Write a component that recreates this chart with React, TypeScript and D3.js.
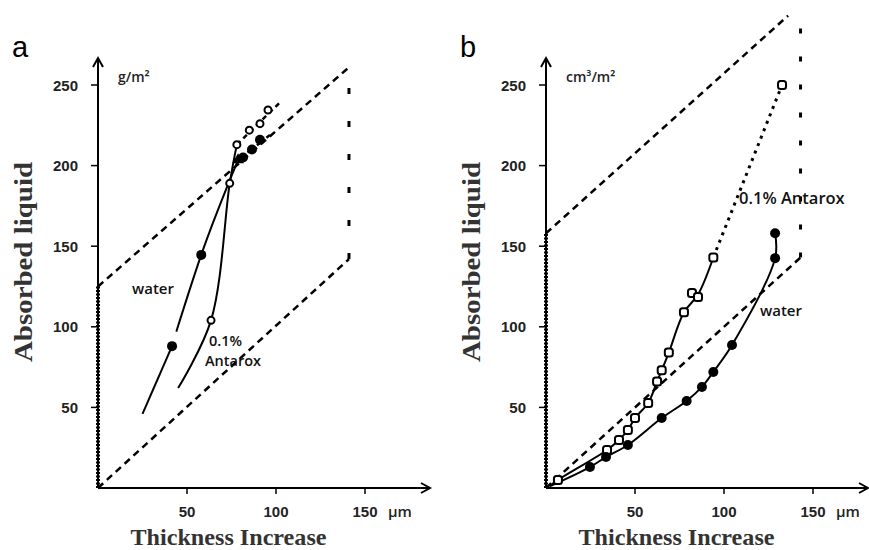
import * as d3 from "d3";

const W = 869;
const H = 550;

const xTicks = [50, 100, 150];
const yTicks = [50, 100, 150, 200, 250];

// panel a – bounding parallelogram
const aLower = [[0, 0], [141, 142]];
const aUpper = [[0, 125], [141, 261]];
const aRight = [[141, 142], [141, 261]];
const aLeft = [[0, 0], [0, 125]];

// panel a – water
const aWaterLine1 = [[25, 46], [41.6, 88]];
const aWaterLine2 = [[44, 97], [58, 144.6], [78.7, 203.5]];
const aWaterDash = [[78.7, 203.5], [96.6, 219]];
const aWaterPts = [[41.6, 88], [58, 144.6], [81.5, 205], [86.5, 210], [91, 216]];
const aWaterTri = [[78.7, 203.5]];

// panel a – 0.1% Antarox
const aAntLine = [[45, 62], [63.5, 104], [74, 189], [78, 213]];
const aAntDash = [[78, 213], [103, 240]];
const aAntPts = [[63.5, 104], [74, 189], [78, 213], [85, 222], [91, 226], [95.5, 234.5]];

// panel b – bounding parallelogram
const bLower = [[0, 0], [143, 143]];
const bUpper = [[0, 158], [136, 293]];
const bRight = [[143, 143], [143, 290]];
const bLeft = [[0, 0], [0, 158]];

// panel b – 0.1% Antarox
const bAntLine = [[3, 2], [6.7, 5], [34.3, 23.6], [41, 29.8], [46, 36], [50, 43.4], [57.4, 52.7], [62.4, 66], [65, 73], [69, 84], [77.5, 109], [85.4, 120], [94, 143]];
const bAntDot = [[94, 143], [132.6, 250]];
const bAntPts = [[6.7, 5], [34.3, 23.6], [41, 29.8], [46, 36], [50, 43.4], [57.4, 52.7], [62.4, 66], [65, 73], [69, 84], [77.5, 109], [82, 121], [85.4, 118.5], [94, 143], [132.6, 250]];

// panel b – water
const bWaterLine = [[2, 1], [24.7, 13], [33.7, 19.2], [46, 26.7], [65, 43.4], [79, 54], [87.6, 62.7], [94, 72], [104.5, 88.7], [128.7, 142.6], [128.7, 158]];
const bWaterPts = [[24.7, 13], [33.7, 19.2], [46, 26.7], [65, 43.4], [79, 54], [87.6, 62.7], [94, 72], [104.5, 88.7], [128.7, 142.6], [128.7, 158]];

const tickFont = "'Liberation Sans', Arial, sans-serif";
const noteFont = "'Open Sans', sans-serif";
const serif = "'Liberation Serif', 'Times New Roman', serif";

function Panel({ x0, xEnd, letter, unit, children }) {
  const x = d3.scaleLinear().domain([0, 150]).range([x0, x0 + 267]);
  const y = d3.scaleLinear().domain([0, 250]).range([488, 85]);
  const line = d3.line().x((d) => x(d[0])).y((d) => y(d[1]));
  return (
    <g>
      <text x={x0 - 86} y={57} fontFamily={tickFont} fontSize={29}>{letter}</text>
      {/* axes */}
      <line x1={x0} y1={y(0)} x2={x0} y2={60} stroke="#000" strokeWidth={2} />
      <path d={`M${x0 - 5},${67} L${x0},${58} L${x0 + 5},${67}`} fill="none" stroke="#000" strokeWidth={2} />
      <line x1={x0} y1={y(0)} x2={xEnd} y2={y(0)} stroke="#000" strokeWidth={2} />
      <path d={`M${xEnd - 9},${y(0) - 5} L${xEnd},${y(0)} L${xEnd - 9},${y(0) + 5}`} fill="none" stroke="#000" strokeWidth={2} />
      {yTicks.map((t) => (
        <g key={"y" + t}>
          <line x1={x0 - 7} x2={x0} y1={y(t)} y2={y(t)} stroke="#000" strokeWidth={1.5} />
          <text x={x0 - 20} y={y(t) + 5.5} textAnchor="end" fontFamily={tickFont} fontWeight="bold" fontSize={15} fill="#222">{t}</text>
        </g>
      ))}
      {xTicks.map((t) => (
        <g key={"x" + t}>
          <line x1={x(t)} x2={x(t)} y1={y(0)} y2={y(0) + 6} stroke="#000" strokeWidth={1.5} />
          <text x={x(t)} y={517} textAnchor="middle" fontFamily={tickFont} fontWeight="bold" fontSize={15} fill="#222">{t}</text>
        </g>
      ))}
      <text x={x(150) + 23} y={517} fontFamily={noteFont} fontWeight={600} fontSize={15} fill="#222">µm</text>
      <text x={x0 + 20} y={82} fontFamily={noteFont} fontWeight={600} fontSize={14} fill="#222">{unit}</text>
      <text x={x(75) - 3} y={545} textAnchor="middle" fontFamily={serif} fontWeight="bold" fontSize={24} fill="#333" textLength={196} lengthAdjust="spacingAndGlyphs">Thickness Increase</text>
      <text transform={`translate(${x0 - 66},${262}) rotate(-90)`} textAnchor="middle" fontFamily={serif} fontWeight="bold" fontSize={25} fill="#333" textLength={200} lengthAdjust="spacingAndGlyphs">Absorbed liquid</text>
      {children(x, y, line)}
    </g>
  );
}

const dashed = { fill: "none", stroke: "#000", strokeWidth: 2.5, strokeDasharray: "7,5" };

export default function App() {
  return (
    <svg width={W} height={H} style={{ position: "absolute", left: 0, top: 0, background: "#fff" }}>
      <Panel x0={98} xEnd={430} letter="a" unit="g/m²">
        {(x, y, line) => (
          <g>
            <path d={line(aLower)} {...dashed} />
            <path d={line(aUpper)} {...dashed} />
            <path d={line(aRight)} fill="none" stroke="#000" strokeWidth={3} strokeDasharray="6,27" />
            <path d={line(aLeft)} fill="none" stroke="#000" strokeWidth={4} strokeDasharray="2,1.5" />
            <path d={line(aWaterLine1)} fill="none" stroke="#000" strokeWidth={2} />
            <path d={line.curve(d3.curveMonotoneX)(aWaterLine2)} fill="none" stroke="#000" strokeWidth={2} />
            <path d={line.curve(d3.curveLinear)(aWaterDash)} {...dashed} />
            <path d={line.curve(d3.curveCatmullRom)(aAntLine)} fill="none" stroke="#000" strokeWidth={2} />
            <path d={line.curve(d3.curveLinear)(aAntDash)} fill="none" stroke="#000" strokeWidth={2.5} strokeDasharray="5,4" />
            {aWaterPts.map((d, i) => (
              <circle key={"aw" + i} cx={x(d[0])} cy={y(d[1])} r={5} fill="#000" />
            ))}
            {aWaterTri.map((d, i) => (
              <path key={"at" + i} d={d3.symbol(d3.symbolTriangle, 60)()} transform={`translate(${x(d[0])},${y(d[1])})`} fill="#000" />
            ))}
            {aAntPts.map((d, i) => (
              <circle key={"aa" + i} cx={x(d[0])} cy={y(d[1])} r={3.5} fill="#fff" stroke="#000" strokeWidth={2} />
            ))}
            <text x={132} y={294} fontFamily={noteFont} fontWeight={600} fontSize={15} fill="#111">water</text>
            <text x={209} y={346} fontFamily={noteFont} fontWeight={600} fontSize={14.5} fill="#111">0.1%</text>
            <text x={205} y={366} fontFamily={noteFont} fontWeight={600} fontSize={14.5} fill="#111">Antarox</text>
          </g>
        )}
      </Panel>
      <Panel x0={546} xEnd={868} letter="b" unit="cm³/m²">
        {(x, y, line) => (
          <g>
            <path d={line(bLower)} {...dashed} />
            <path d={line(bUpper)} {...dashed} />
            <path d={line(bRight)} fill="none" stroke="#000" strokeWidth={3} strokeDasharray="5,23" />
            <path d={line(bLeft)} fill="none" stroke="#000" strokeWidth={4} strokeDasharray="2,1.5" />
            <path d={line.curve(d3.curveCatmullRom)(bAntLine)} fill="none" stroke="#000" strokeWidth={2} />
            <path d={line.curve(d3.curveLinear)(bAntDot)} fill="none" stroke="#000" strokeWidth={3} strokeDasharray="3,5" />
            <path d={line.curve(d3.curveCatmullRom)(bWaterLine)} fill="none" stroke="#000" strokeWidth={2} />
            {bAntPts.map((d, i) => (
              <rect key={"ba" + i} x={x(d[0]) - 4} y={y(d[1]) - 4} width={8} height={8} rx={2.5} fill="#fff" stroke="#000" strokeWidth={2} />
            ))}
            {bWaterPts.map((d, i) => (
              <circle key={"bw" + i} cx={x(d[0])} cy={y(d[1])} r={5} fill="#000" />
            ))}
            <text x={739} y={204} fontFamily={noteFont} fontWeight={600} fontSize={16.5} fill="#111">0.1% Antarox</text>
            <text x={760} y={316} fontFamily={noteFont} fontWeight={600} fontSize={15} fill="#111">water</text>
          </g>
        )}
      </Panel>
    </svg>
  );
}
